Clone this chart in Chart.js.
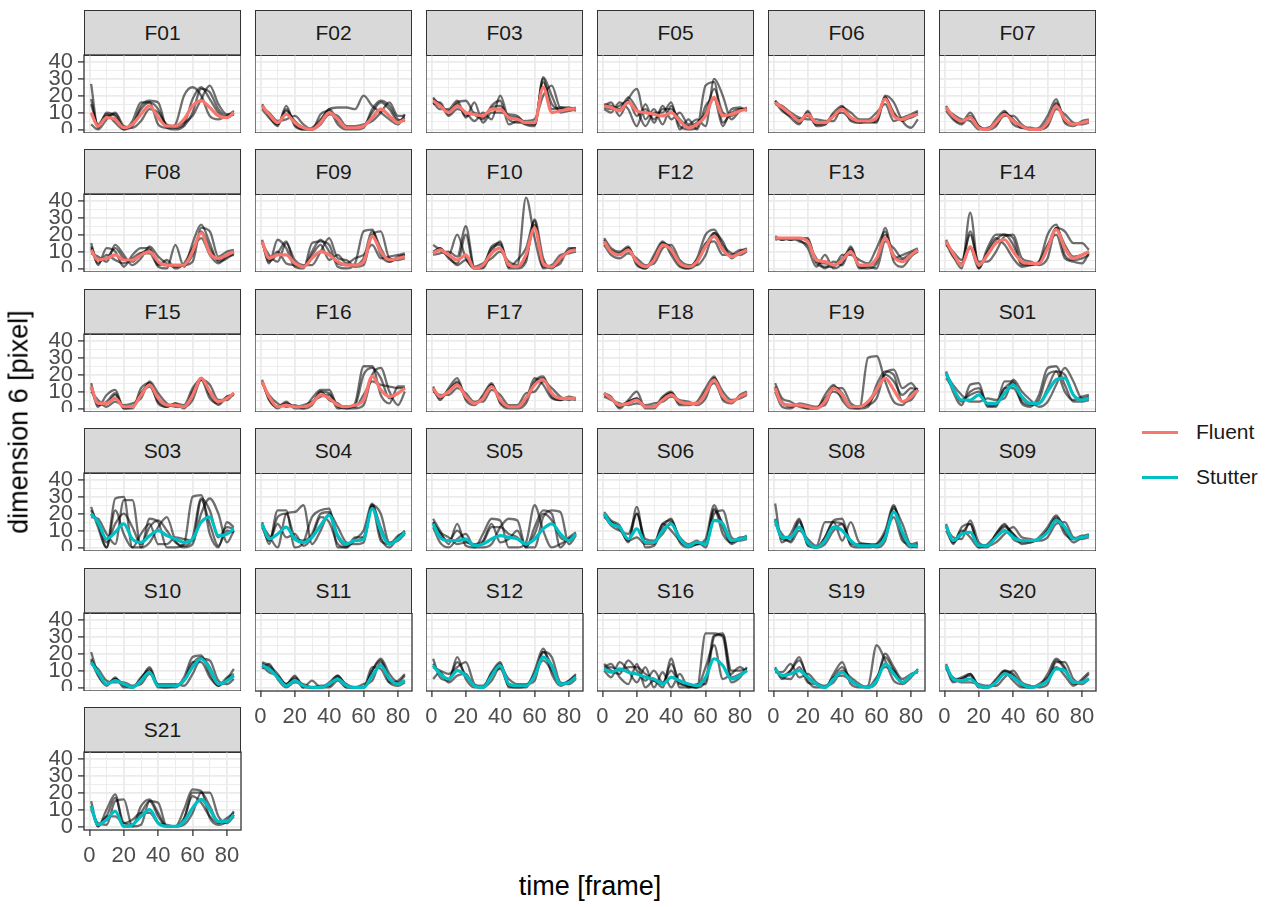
<!DOCTYPE html>
<html><head><meta charset="utf-8">
<script src="https://cdn.jsdelivr.net/npm/chart.js@4.4.1/dist/chart.umd.min.js"></script>
<style>
html,body{margin:0;padding:0;background:#fff;}
body{width:1278px;height:907px;position:relative;overflow:hidden;font-family:"Liberation Sans",Arial,sans-serif;}
.strip{position:absolute;box-sizing:border-box;background:#d9d9d9;border:1.3px solid #333;color:#1a1a1a;font-size:21px;display:flex;align-items:center;justify-content:center;}
canvas{position:absolute;}
.lab{position:absolute;white-space:nowrap;color:#000;}
</style></head><body>
<script>
// ---------- data ----------
const FRAMES = [1,5,10,15,20,25,30,35,40,45,50,55,60,65,70,75,80,84];
const X_TICKS = [0,20,40,60,80];
const X_GRID = [0,10,20,30,40,50,60,70,80];
const Y_TICKS = [0,10,20,30,40];
const Y_GRID = [0,5,10,15,20,25,30,35,40];
const PANELS = ['F01','F02','F03','F05','F06','F07','F08','F09','F10','F12','F13','F14','F15','F16','F17','F18','F19','S01','S03','S04','S05','S06','S08','S09','S10','S11','S12','S16','S19','S20','S21'];
const GROUPS = ['Fluent','Stutter'];

const F01_mean=[10,2,7,6,1,3,9,14,7,2,2,6,14,17,13,8,7,10];
const F01_runs=[[27,1,10,8,0,2,14,17,16,1,0,2,10,24,22,12,8,10],[15,3,9,4,0,5,16,16,3,1,3,20,25,20,8,6,8,11],[3,0,6,10,2,1,5,12,10,3,2,4,8,18,26,15,9,9],[18,2,8,9,1,3,12,16,12,2,1,3,18,25,18,10,7,9]];
const F02_mean=[14,9,4,9,4,1,0,4,10,6,1,1,2,7,12,8,4,6];
const F02_runs=[[15,8,2,14,2,0,1,6,12,13,13,12,20,14,10,6,3,9],[13,10,5,6,8,3,0,9,11,3,0,0,1,12,17,14,6,5],[12,7,3,11,5,1,0,3,9,8,2,2,3,5,10,16,8,8],[14,9,3,12,3,0,0,5,12,5,1,1,2,10,16,12,5,7]];
const F03_mean=[17,14,10,14,10,9,8,12,12,7,6,4,4,25,10,11,12,12];
const F03_runs=[[18,15,9,16,17,9,6,14,17,3,5,3,3,30,12,13,12,13],[16,12,12,17,7,16,4,10,10,9,8,3,2,31,20,10,11,12],[15,16,8,12,10,5,10,6,20,6,4,5,6,20,26,13,13,11],[19,14,11,15,8,10,7,13,14,8,7,4,3,28,15,12,12,12]];
const F05_mean=[14,13,11,16,11,10,9,8,10,5,1,3,8,19,8,9,11,12];
const F05_runs=[[14,16,8,18,24,6,12,3,14,2,0,1,26,28,4,10,12,12],[12,10,16,12,2,15,4,14,6,10,3,6,2,30,20,6,11,13],[15,14,12,19,12,2,10,10,16,0,6,0,14,18,2,12,13,11],[13,12,14,17,8,12,6,12,12,6,2,4,10,24,10,8,12,12]];
const F06_mean=[16,13,9,5,9,4,4,8,12,7,5,5,7,18,8,6,8,9];
const F06_runs=[[17,12,7,3,11,2,3,10,14,5,4,4,5,20,16,5,1,6],[15,14,10,7,6,6,5,5,13,10,6,6,10,15,5,7,9,11],[16,11,8,6,8,3,3,9,10,6,4,5,4,19,10,5,8,10],[17,13,9,4,10,3,4,8,13,7,5,5,6,19,9,6,7,9]];
const F07_mean=[13,8,5,7,1,0,4,9,5,2,0,0,4,14,6,3,4,5];
const F07_runs=[[14,7,4,10,2,0,6,11,3,1,0,1,8,18,4,2,5,6],[12,9,6,5,0,1,3,8,8,3,0,0,2,12,9,4,3,4],[11,6,3,8,2,0,2,10,6,1,1,0,5,15,5,3,4,5],[13,8,5,7,1,0,4,10,5,2,0,0,3,16,6,3,4,5]];
const F08_mean=[11,5,6,8,5,5,8,10,4,2,2,2,10,21,9,6,8,10];
const F08_runs=[[15,2,12,10,1,8,12,12,1,0,14,1,15,26,15,4,6,9],[9,7,4,14,8,2,6,13,7,3,1,2,4,24,22,7,10,11],[12,3,8,5,3,6,9,9,2,5,0,3,12,18,8,3,7,8],[13,5,6,12,6,4,9,11,3,2,2,2,8,22,12,5,8,10]];
const F09_mean=[16,6,8,8,3,1,6,10,8,4,2,2,4,19,10,5,6,7];
const F09_runs=[[17,3,17,12,1,0,15,16,14,1,0,3,22,23,8,4,7,8],[15,8,4,15,5,2,2,10,18,6,5,1,2,20,22,6,5,6],[16,5,10,3,2,1,8,14,5,8,3,6,8,14,6,7,8,9],[16,4,9,16,2,1,10,17,10,3,2,2,6,22,12,4,6,8]];
const F10_mean=[9,11,8,5,8,0,2,9,12,2,1,8,24,3,1,6,10,11];
const F10_runs=[[10,12,6,3,20,0,1,13,15,0,0,4,29,6,0,5,11,12],[8,9,10,7,25,1,3,6,10,4,2,42,18,1,2,8,9,10],[14,11,7,2,5,0,0,10,16,1,5,12,28,0,1,3,12,12],[9,12,8,20,6,0,2,12,14,1,1,6,26,4,1,6,10,11]];
const F12_mean=[16,10,8,11,4,1,5,14,11,3,1,4,13,19,11,7,9,11];
const F12_runs=[[18,12,10,13,2,0,8,16,8,1,0,6,20,23,14,9,8,10],[14,8,6,9,6,2,3,12,14,5,2,2,8,21,16,6,10,12],[15,11,9,12,3,0,6,15,10,2,0,3,15,16,8,8,11,11],[17,10,8,12,4,1,6,15,12,3,1,5,14,21,12,7,9,11]];
const F13_mean=[18,18,18,18,16,5,4,2,5,10,2,2,6,18,7,4,8,11];
const F13_runs=[[18,17,18,17,12,1,8,0,3,13,1,0,3,24,4,1,7,10],[17,18,17,18,18,3,1,1,8,8,5,3,12,22,6,8,10,12],[19,17,18,16,14,6,0,4,2,12,0,1,0,16,12,6,9,11],[18,18,17,18,17,4,3,2,6,11,2,2,5,20,8,5,8,11]];
const F14_mean=[16,9,2,13,2,8,15,17,10,4,3,3,12,23,12,6,8,10];
const F14_runs=[[17,8,0,33,0,12,20,20,18,2,2,4,20,26,8,5,6,8],[14,10,5,20,4,4,10,19,20,6,4,2,6,24,22,15,15,11],[15,7,3,12,0,10,18,14,6,1,2,4,14,20,6,4,3,9],[16,8,2,22,2,9,17,20,14,3,3,3,13,24,14,7,8,10]];
const F15_mean=[13,3,3,6,1,1,8,14,6,2,2,1,8,18,10,4,6,9];
const F15_runs=[[15,1,8,11,0,0,12,15,3,1,3,0,10,18,8,2,7,8],[10,5,1,4,2,3,6,16,9,3,1,1,5,17,14,5,5,9],[12,2,4,9,0,1,9,13,4,1,3,2,12,17,6,3,7,8],[13,3,3,8,1,1,9,15,6,2,2,1,9,18,10,4,6,9]];
const F16_mean=[16,7,1,2,1,1,3,8,6,2,1,2,5,19,11,7,9,12];
const F16_runs=[[17,5,1,4,0,0,6,11,11,1,0,3,25,25,8,3,13,13],[15,8,3,1,2,0,2,10,5,3,0,0,2,20,24,10,2,10],[16,6,0,3,1,2,4,7,8,0,1,1,8,16,14,13,12,12],[16,6,1,3,1,1,3,10,9,2,1,2,20,24,18,6,9,12]];
const F17_mean=[12,7,10,14,7,3,6,13,5,1,1,6,14,17,9,6,6,6];
const F17_runs=[[13,5,12,18,5,2,8,15,3,0,0,3,16,19,7,5,6,5],[10,8,8,12,9,4,4,11,8,2,2,9,10,16,12,7,5,6],[11,6,11,15,6,3,7,14,4,1,1,5,18,14,6,5,7,6],[12,7,10,16,7,3,6,14,5,1,1,6,15,18,9,6,6,6]];
const F18_mean=[9,6,2,3,5,1,1,5,8,4,3,3,9,17,7,4,7,9];
const F18_runs=[[9,7,0,5,10,0,0,6,9,2,2,4,12,19,5,3,8,10],[7,5,3,2,3,2,3,4,7,5,4,2,6,18,10,5,6,8],[8,6,1,4,6,1,1,7,10,3,3,3,10,15,6,4,7,9],[9,6,2,4,6,1,1,6,9,4,3,3,9,18,7,4,7,9]];
const F19_mean=[12,3,2,2,1,0,4,12,8,1,1,4,11,18,11,4,7,11];
const F19_runs=[[15,6,4,1,0,0,8,14,5,0,0,30,31,16,4,2,9,12],[10,1,0,3,2,1,2,12,12,3,1,2,6,21,23,12,15,10],[13,4,1,2,0,0,6,10,7,1,0,1,14,22,20,4,5,11],[12,3,2,2,1,0,4,13,9,1,1,3,10,20,16,8,12,11]];
const S01_mean=[21,12,5,5,8,3,3,9,14,7,3,3,10,17,18,8,5,6];
const S01_runs=[[22,10,2,14,15,1,2,16,16,3,1,8,24,25,14,4,4,5],[20,14,8,4,4,6,5,6,17,10,5,1,4,14,24,16,6,7],[18,12,4,10,12,2,1,12,12,4,2,5,20,22,10,5,7,8],[21,12,5,8,10,3,3,12,15,6,3,3,12,22,20,8,5,6]];
const S03_mean=[20,15,5,9,14,5,3,7,10,7,5,3,5,15,18,7,8,11];
const S03_runs=[[22,14,0,29,30,0,0,17,15,0,0,2,30,31,8,0,15,12],[18,17,8,2,28,28,0,3,12,18,4,0,2,20,29,20,3,10],[24,12,0,22,8,0,8,14,2,2,6,5,4,28,14,1,10,9],[20,15,3,14,20,12,2,12,16,10,3,1,6,29,22,6,12,11]];
const S04_mean=[14,5,8,12,5,3,6,13,19,7,2,4,5,23,10,2,5,9];
const S04_runs=[[15,2,22,22,0,3,18,22,23,0,0,5,10,26,6,0,6,10],[13,7,0,20,21,25,2,10,20,12,3,2,3,25,20,3,4,8],[12,4,14,6,8,1,6,18,15,2,0,6,6,24,4,2,7,9],[14,4,18,20,6,4,8,20,21,6,1,4,6,25,12,2,5,9]];
const S05_mean=[14,6,4,4,5,1,2,5,7,6,5,2,5,11,14,8,4,8];
const S05_runs=[[17,10,2,14,1,0,8,17,16,0,0,3,25,10,0,2,5,8],[12,3,0,5,8,0,0,2,12,17,16,0,0,18,22,21,2,7],[15,9,6,2,3,2,4,14,3,5,10,0,12,22,20,0,6,9],[15,8,4,10,4,1,3,12,12,8,6,1,8,20,16,6,4,8]];
const S06_mean=[20,14,12,5,11,3,3,10,14,5,1,3,2,16,14,4,5,6];
const S06_runs=[[21,16,13,3,24,0,1,12,17,3,0,2,5,25,12,2,5,7],[19,13,10,8,20,5,4,8,15,6,2,4,0,20,22,6,4,5],[18,15,11,4,6,2,2,14,10,4,1,2,3,23,8,3,6,6],[20,15,12,4,20,3,3,14,16,4,1,2,2,22,14,3,5,6]];
const S08_mean=[16,6,6,12,3,0,4,12,10,4,1,1,1,6,21,9,1,1];
const S08_runs=[[26,3,8,17,1,0,6,16,17,1,0,0,2,10,25,6,0,2],[14,8,3,10,5,1,15,15,4,15,3,2,0,4,23,14,1,0],[16,5,4,15,2,0,2,10,14,2,2,2,2,8,18,4,2,3],[17,6,6,16,3,0,6,15,14,4,1,1,1,8,24,8,1,1]];
const S09_mean=[13,4,8,9,1,1,6,10,6,4,4,5,9,16,12,5,6,7];
const S09_runs=[[14,2,12,14,0,0,8,14,5,3,3,6,12,19,10,3,6,8],[12,6,5,16,3,1,3,8,12,6,5,4,6,14,15,6,5,6],[10,3,10,6,0,2,7,12,8,2,3,5,10,17,8,5,7,7],[13,3,8,14,1,1,8,13,8,4,4,5,10,18,12,5,6,7]];
const S10_mean=[15,9,2,4,2,0,4,9,1,1,1,4,12,17,11,2,4,7];
const S10_runs=[[21,8,2,5,1,0,5,12,1,0,0,6,18,19,8,1,5,11],[14,11,4,3,3,1,2,8,2,2,2,1,8,17,16,4,2,5],[16,7,1,6,0,0,6,10,0,0,1,4,15,15,6,1,6,8],[17,9,2,5,2,0,5,11,1,1,1,4,14,18,12,2,4,7]];
const S11_mean=[13,11,6,1,4,1,0,0,2,5,1,0,0,7,13,5,2,4];
const S11_runs=[[15,13,8,2,7,0,0,0,3,7,0,0,0,10,17,8,3,7],[11,14,5,0,3,2,0,1,1,6,2,0,2,4,15,3,1,3],[13,9,7,2,5,0,4,0,0,4,0,0,0,12,11,3,4,8],[14,12,6,2,6,1,0,0,2,7,1,0,0,10,16,5,2,4]];
const S12_mean=[13,8,5,10,7,1,0,7,13,2,1,1,7,18,13,2,3,6];
const S12_runs=[[17,6,4,18,5,0,0,9,15,0,0,0,10,23,8,1,4,8],[12,10,8,12,15,2,0,4,12,5,2,2,4,21,18,3,2,5],[5,9,3,7,8,1,1,8,11,1,0,1,8,16,10,2,4,7],[14,8,5,15,7,1,0,8,14,2,1,1,8,21,13,2,3,6]];
const S16_mean=[11,9,11,9,8,6,5,2,6,4,2,1,6,17,13,5,7,10];
const S16_runs=[[12,14,6,2,14,0,4,0,17,0,0,0,32,32,30,3,6,12],[10,6,15,10,3,12,0,9,0,8,0,2,2,30,32,10,10,11],[14,10,8,16,10,4,10,3,10,2,1,0,12,25,5,8,12,9],[11,12,10,12,12,8,4,2,14,3,1,0,4,31,31,6,8,10]];
const S19_mean=[11,7,8,10,6,2,0,5,9,4,1,0,4,14,8,3,7,10];
const S19_runs=[[12,5,10,18,4,0,0,8,15,2,0,1,25,16,4,2,6,11],[9,9,14,6,8,3,1,3,10,6,2,0,3,20,12,5,8,9],[11,6,5,12,3,2,0,6,7,4,1,0,6,12,10,3,7,10],[11,7,10,16,6,2,0,6,12,4,1,0,5,18,10,3,7,10]];
const S20_mean=[13,5,4,5,1,0,3,8,6,2,0,1,4,11,10,3,3,5];
const S20_runs=[[14,4,6,8,0,0,5,10,8,1,0,1,8,17,12,2,4,8],[11,6,3,3,2,1,1,6,10,3,1,0,2,15,15,5,2,5],[12,3,5,7,1,0,4,9,4,0,0,2,6,12,7,1,5,9],[13,5,5,8,1,0,3,10,7,2,0,1,5,16,11,3,3,5]];
const S21_mean=[12,1,4,9,0,1,6,10,2,0,0,3,11,16,10,3,3,7];
const S21_runs=[[15,0,10,19,0,0,12,16,8,0,0,10,22,21,5,1,3,9],[10,2,1,15,16,0,1,15,14,0,0,1,8,20,20,6,2,6],[12,0,6,6,2,4,8,8,2,1,0,5,18,14,6,2,5,8],[12,1,6,17,2,1,8,15,6,0,0,4,20,20,12,3,3,7]];

const DATA = {F01:[F01_mean,F01_runs],F02:[F02_mean,F02_runs],F03:[F03_mean,F03_runs],F05:[F05_mean,F05_runs],F06:[F06_mean,F06_runs],F07:[F07_mean,F07_runs],
F08:[F08_mean,F08_runs],F09:[F09_mean,F09_runs],F10:[F10_mean,F10_runs],F12:[F12_mean,F12_runs],F13:[F13_mean,F13_runs],F14:[F14_mean,F14_runs],
F15:[F15_mean,F15_runs],F16:[F16_mean,F16_runs],F17:[F17_mean,F17_runs],F18:[F18_mean,F18_runs],F19:[F19_mean,F19_runs],S01:[S01_mean,S01_runs],
S03:[S03_mean,S03_runs],S04:[S04_mean,S04_runs],S05:[S05_mean,S05_runs],S06:[S06_mean,S06_runs],S08:[S08_mean,S08_runs],S09:[S09_mean,S09_runs],
S10:[S10_mean,S10_runs],S11:[S11_mean,S11_runs],S12:[S12_mean,S12_runs],S16:[S16_mean,S16_runs],S19:[S19_mean,S19_runs],S20:[S20_mean,S20_runs],S21:[S21_mean,S21_runs]};

// ---------- layout / style ----------
const FONT = '"Liberation Sans", Arial, sans-serif';
const COLORS = {Fluent:'#F8766D', Stutter:'#00BFC4'};
const COL_X0 = 84, COL_STEP = 171, PANEL_W = 157;
const ROW_Y0 = 9.5, ROW_STEP = 139.5, STRIP_H = 45, PLOT_H = 78;

const framePlugin = {id:'frame', afterDraw(ch){
  const a = ch.chartArea, c = ch.ctx;
  c.save(); c.strokeStyle = '#333333'; c.lineWidth = 1.3;
  c.strokeRect(a.left, a.top, a.right - a.left, a.bottom - a.top);
  c.restore();
}};

function addDiv(cls, css, text){
  const d = document.createElement('div');
  d.className = cls; d.style.cssText = css; if (text) d.textContent = text;
  document.body.appendChild(d); return d;
}

PANELS.forEach((name, k) => {
  const r = Math.floor(k / 6), c = k % 6;
  const left = Math.round(COL_X0 + c * COL_STEP);
  const top = Math.round(ROW_Y0 + r * ROW_STEP);
  addDiv('strip', `left:${left}px;top:${top}px;width:${PANEL_W}px;height:${STRIP_H + 1}px;`, name);
  const plotTop = top + STRIP_H;
  const isLeft = c === 0;
  const isBottom = (r === 4 && c > 0) || r === 5;
  const padL = isLeft ? 58 : 0, padT = isLeft ? 12 : 0, padR = isBottom ? 16 : 0, padB = isBottom ? 40 : 0;
  const cv = document.createElement('canvas');
  const W = PANEL_W + padL + padR, H = PLOT_H + padT + padB;
  cv.width = W; cv.height = H;
  cv.style.cssText = `left:${left - padL}px;top:${plotTop - padT}px;width:${W}px;height:${H}px;`;
  document.body.appendChild(cv);

  const [mean, runs] = DATA[name];
  const group = name[0] === 'F' ? 'Fluent' : 'Stutter';
  const datasets = [{
    data: FRAMES.map((f, i) => ({x: f, y: mean[i]})),
    borderColor: COLORS[group], borderWidth: 3.2, pointRadius: 0,
    cubicInterpolationMode: 'monotone', order: 0
  }];
  runs.forEach(run => datasets.push({
    data: FRAMES.map((f, i) => ({x: f, y: run[i]})),
    borderColor: 'rgba(0,0,0,0.56)', borderWidth: 2.3, pointRadius: 0,
    cubicInterpolationMode: 'monotone', order: 1
  }));

  const isMajorX = v => X_TICKS.includes(v);
  const isMajorY = v => Y_TICKS.includes(v);

  new Chart(cv, {
    type: 'line',
    data: {datasets},
    options: {
      responsive: false, animation: false, events: [],
      layout: {padding: {left: 0, top: padT, right: padR, bottom: 0}},
      plugins: {legend: {display: false}, tooltip: {enabled: false}},
      scales: {
        x: {
          type: 'linear', min: -3.15, max: 88.15,
          afterBuildTicks: a => { a.ticks = X_GRID.map(v => ({value: v})); },
          afterFit: s => { s.height = padB; s.paddingLeft = 0; s.paddingRight = 0; },
          border: {display: false},
          grid: {
            color: '#ebebeb',
            lineWidth: ctx => (ctx.tick && isMajorX(ctx.tick.value)) ? 1.8 : 0.9,
            drawTicks: isBottom, tickLength: 6,
            tickColor: ctx => (ctx.tick && isMajorX(ctx.tick.value)) ? '#333333' : 'rgba(0,0,0,0)',
            tickWidth: 1.3
          },
          ticks: {
            display: isBottom, autoSkip: false, maxRotation: 0, minRotation: 0, padding: 7,
            color: '#4d4d4d', font: {size: 22, family: FONT},
            callback: v => isMajorX(v) ? String(v) : ''
          }
        },
        y: {
          type: 'linear', min: -2.1, max: 44.1,
          afterBuildTicks: a => { a.ticks = Y_GRID.map(v => ({value: v})); },
          afterFit: s => { s.width = padL; s.paddingTop = 0; s.paddingBottom = 0; },
          border: {display: false},
          grid: {
            color: '#ebebeb',
            lineWidth: ctx => (ctx.tick && isMajorY(ctx.tick.value)) ? 1.8 : 0.9,
            drawTicks: isLeft, tickLength: 6,
            tickColor: ctx => (ctx.tick && isMajorY(ctx.tick.value)) ? '#333333' : 'rgba(0,0,0,0)',
            tickWidth: 1.3
          },
          ticks: {
            display: isLeft, autoSkip: false, padding: 5,
            color: '#4d4d4d', font: {size: 22, family: FONT},
            callback: v => isMajorY(v) ? String(v) : ''
          }
        }
      }
    },
    plugins: [framePlugin]
  });
});

// axis titles
addDiv('lab', `left:590px;top:886px;transform:translate(-50%,-50%);font-size:27px;`, 'time [frame]');
addDiv('lab', `left:19px;top:422px;transform:translate(-50%,-50%) rotate(-90deg);font-size:27px;`, 'dimension 6 [pixel]');

// legend
GROUPS.forEach((g, i) => {
  const y = 432 + i * 45;
  addDiv('lab', `left:1142px;top:${y - 1.5}px;width:36px;height:3px;background:${COLORS[g]};`);
  addDiv('lab', `left:1196px;top:${y}px;transform:translateY(-50%);font-size:21px;color:#1a1a1a;`, g);
});
</script>
</body></html>
